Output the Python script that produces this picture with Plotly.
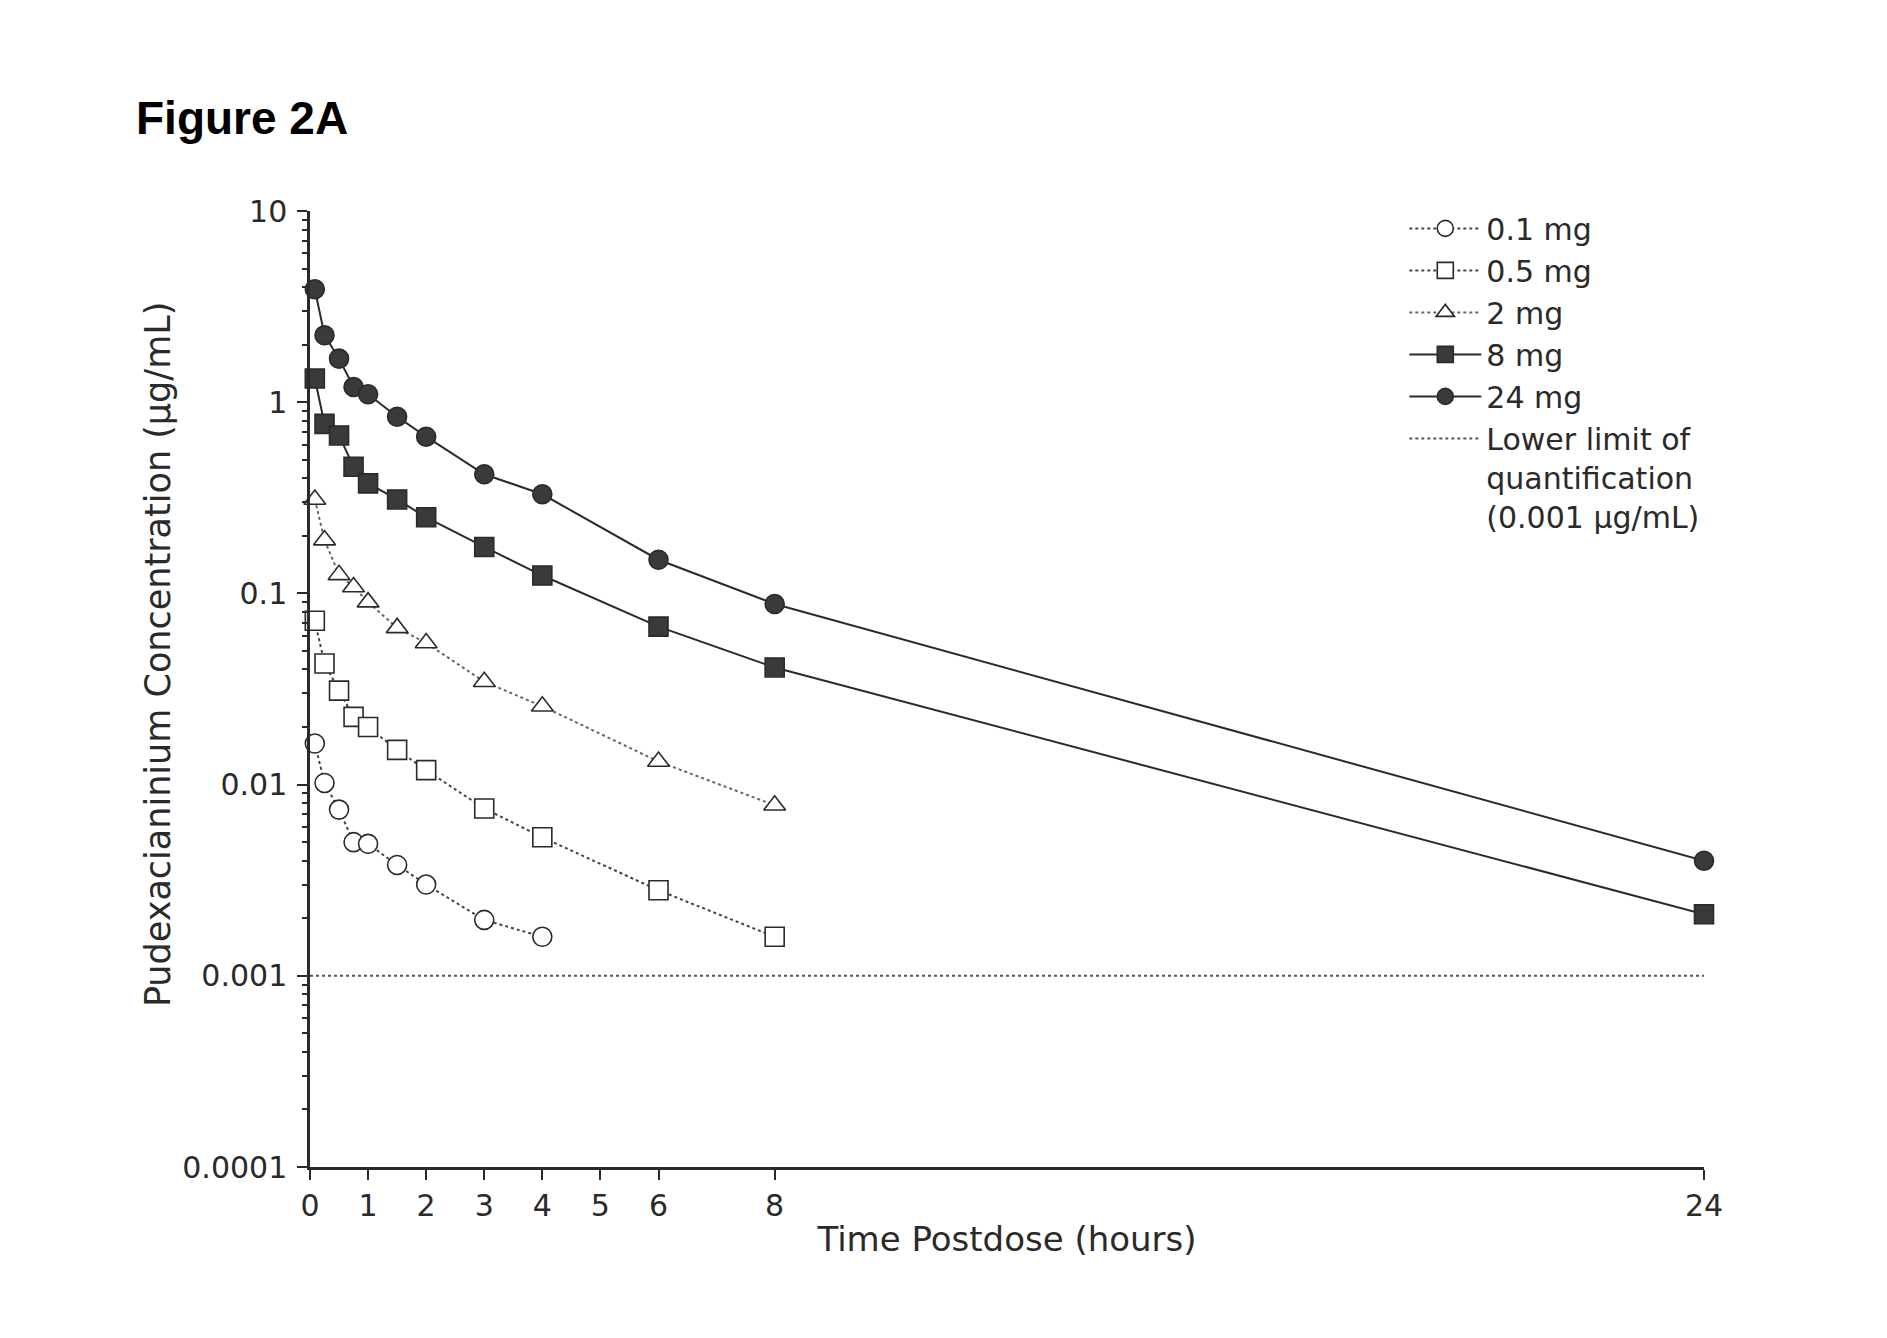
import plotly.graph_objects as go

# ---- data ----
time_h = [0.083, 0.25, 0.5, 0.75, 1, 1.5, 2, 3, 4, 6, 8, 24]
conc_01mg = [0.0164, 0.0102, 0.0074, 0.0050, 0.0049, 0.0038, 0.0030, 0.00196, 0.0016]
conc_05mg = [0.072, 0.043, 0.031, 0.0226, 0.020, 0.0152, 0.0119, 0.0075, 0.0053, 0.0028, 0.0016]
conc_2mg = [0.31, 0.19, 0.125, 0.108, 0.090, 0.066, 0.055, 0.0345, 0.0257, 0.0132, 0.0078]
conc_8mg = [1.33, 0.77, 0.67, 0.46, 0.376, 0.31, 0.25, 0.175, 0.124, 0.067, 0.041, 0.0021]
conc_24mg = [3.9, 2.24, 1.69, 1.2, 1.1, 0.84, 0.66, 0.42, 0.33, 0.15, 0.088, 0.004]
lloq_x = [0, 24]
lloq_value = 0.001
x_ticks = [0, 1, 2, 3, 4, 5, 6, 8, 24]
y_ticks = [0.0001, 0.001, 0.01, 0.1, 1, 10]
y_ticklabels = ["0.0001", "0.001", "0.01", "0.1", "1", "10"]

FONT = "DejaVu Sans"
INK = "#2a2a2a"

fig = go.Figure()

def add_series(name, y, symbol, fill, dash, lcolor):
    fig.add_trace(go.Scatter(
        x=time_h[:len(y)], y=y, name=name, mode="lines+markers",
        line=dict(color=lcolor, width=2, dash=dash),
        marker=dict(symbol=symbol, size=19, color=fill,
                    line=dict(color=INK, width=1.6)),
        cliponaxis=False,
    ))

add_series("0.1 mg", conc_01mg, "circle", "white", "dot", "#444444")
add_series("0.5 mg", conc_05mg, "square", "white", "dot", "#444444")
add_series("2 mg", conc_2mg, "triangle-up", "white", "dot", "#666666")
add_series("8 mg", conc_8mg, "square", "#3a3a3a", "solid", INK)
add_series("24 mg", conc_24mg, "circle", "#3a3a3a", "solid", INK)

fig.add_trace(go.Scatter(
    x=lloq_x, y=[lloq_value] * len(lloq_x), mode="lines",
    name="Lower limit of<br>quantification<br>(0.001 µg/mL)",
    line=dict(color="#555555", width=2, dash="dot"),
))

axis_common = dict(
    showline=True, linecolor=INK, linewidth=2.5, mirror=False,
    ticks="outside", tickcolor=INK, tickwidth=2, ticklen=10,
    showgrid=False, zeroline=False,
    tickfont=dict(family=FONT, size=30, color=INK),
)

fig.update_xaxes(
    **axis_common, range=[0, 24], tickmode="array", tickvals=x_ticks,
    ticktext=[str(v) for v in x_ticks],
    title=dict(text="Time Postdose (hours)", font=dict(family=FONT, size=34, color=INK), standoff=6),
)
fig.update_yaxes(
    **axis_common, type="log", range=[-4, 1], tickmode="array",
    tickvals=y_ticks, ticktext=y_ticklabels, ticklabelstandoff=4,
    minor=dict(ticks="outside", ticklen=5, tickwidth=1.5, tickcolor=INK, dtick="D1"),
)

fig.update_layout(
    width=1887, height=1338,
    margin=dict(l=310, r=183, t=211, b=171, autoexpand=False),
    paper_bgcolor="white", plot_bgcolor="white",
    font=dict(family=FONT, color=INK),
    showlegend=True,
    legend=dict(
        x=0.785, y=1.009, xanchor="left", yanchor="top", valign="top",
        font=dict(family=FONT, size=30, color=INK),
        itemwidth=72, tracegroupgap=0, bgcolor="rgba(0,0,0,0)",
    ),
    annotations=[
        dict(
            text="<b>Figure 2A</b>", x=-0.126, y=1.097, xref="paper", yref="paper",
            xanchor="left", yanchor="middle", showarrow=False,
            font=dict(family="Liberation Sans", size=46, color="black"),
        ),
        dict(
            text="Pudexacianinium Concentration (µg/mL)", textangle=-90,
            x=-0.1094, y=0.537, xref="paper", yref="paper",
            xanchor="center", yanchor="middle", showarrow=False,
            font=dict(family=FONT, size=35, color=INK),
        ),
    ],
)

fig.write_html("out.html")
